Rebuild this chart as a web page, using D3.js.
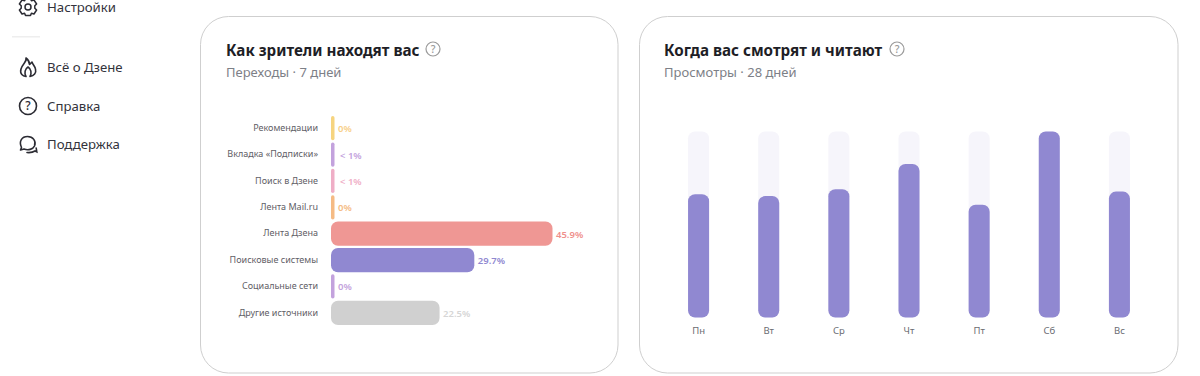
<!DOCTYPE html>
<html lang="ru">
<head>
<meta charset="utf-8">
<script src="https://cdn.jsdelivr.net/npm/d3@7"></script>
<style>
  html, body { margin: 0; padding: 0; background: #fff; overflow: hidden; }
  svg { display: block; font-family: "Noto Sans", sans-serif; }
  .axis .domain, .axis line { display: none; }
</style>
</head>
<body>
<div class="container"></div>
<script>
// data
const sources = ["Рекомендации", "Вкладка «Подписки»", "Поиск в Дзене", "Лента Mail.ru", "Лента Дзена", "Поисковые системы", "Социальные сети", "Другие источники"];
const sourceValues = [0, 0.5, 0.5, 0, 45.9, 29.7, 0, 22.5];
const sourceLabels = ["0%", "< 1%", "< 1%", "0%", "45.9%", "29.7%", "0%", "22.5%"];
const sourceColors = ["#f6d47f", "#c3a2dd", "#efaec6", "#f5bb84", "#ef9794", "#9088d1", "#c3a2dd", "#d0d0d0"];
const labelColors = ["#f8cf88", "#c3a2dd", "#efaec6", "#f5bb84", "#ef8f8c", "#9088d1", "#c3a2dd", "#d6d6d6"];

const days = ["Пн", "Вт", "Ср", "Чт", "Пт", "Сб", "Вс"];
const dayValues = [66.3, 65.3, 69, 82.5, 60.6, 100, 67.7];

const menuTop = ["Настройки"];
const menuBottom = ["Всё о Дзене", "Справка", "Поддержка"];

const width = 1200;
const height = 376;

const svg = d3.select(".container")
  .append("svg")
  .attr("width", width)
  .attr("height", height)
  .attr("viewBox", [0, 0, width, height]);

// question mark icon, used in the menu and next to titles
function helpIcon(x, y, r, color, sw, size) {
  const g = svg.append("g").attr("transform", `translate(${x},${y})`);
  g.append("circle").attr("r", r).attr("fill", "none").attr("stroke", color).attr("stroke-width", sw);
  g.append("text").attr("text-anchor", "middle").attr("y", size * 0.36)
    .attr("font-size", size).attr("font-weight", 500).attr("fill", color).text("?");
}

// left menu
const menuColor = "#2b2b33";
svg.selectAll(".menu-item")
  .data([[menuTop[0], 12], [menuBottom[0], 72], [menuBottom[1], 111], [menuBottom[2], 149]])
  .join("text")
  .attr("class", "menu-item")
  .attr("x", 47)
  .attr("y", d => d[1])
  .attr("font-size", 13.2)
  .attr("fill", "#33333b")
  .text(d => d[0]);

// gear
const gear = svg.append("g").attr("transform", "translate(28,7)").attr("fill", "none").attr("stroke", menuColor).attr("stroke-width", 1.5);
gear.append("circle").attr("r", 3);
gear.append("path").attr("stroke-linejoin", "round")
  .attr("d", "M-2.5,-8.5 L2.5,-8.5 L3.4,-6.2 L6,-7 L8.6,-3 L6.8,-1.2 L6.8,1.2 L8.6,3 L6,7 L3.4,6.2 L2.5,8.5 L-2.5,8.5 L-3.4,6.2 L-6,7 L-8.6,3 L-6.8,1.2 L-6.8,-1.2 L-8.6,-3 L-6,-7 L-3.4,-6.2 Z");

svg.append("rect").attr("x", 12).attr("y", 36).attr("width", 28).attr("height", 1.5).attr("fill", "#eeeeee");

// flame
svg.append("path")
  .attr("fill", "none").attr("stroke", menuColor).attr("stroke-width", 1.6).attr("stroke-linejoin", "round")
  .attr("d", "M26,58 C27,62 23,63 21,69 C19.500,74 23,76 26,76.500 C24,73 25,69 28,67 C31,69 32,73 30,76.500 C34,76 36.500,73 35.500,69 C35,66.500 33,65 32,62 C31,63 30.500,64 29.500,64.500 C29.500,62 28,59.500 26,58 Z");

helpIcon(28, 106, 8.5, menuColor, 1.6, 12);

// speech bubbles
svg.append("path")
  .attr("fill", "none").attr("stroke", menuColor).attr("stroke-width", 1.6).attr("stroke-linejoin", "round")
  .attr("d", "M21.500,147.500 C18.500,141 22,136.500 27.500,136.500 C33,136.500 36.500,141 34.500,146 C33,149.500 28,150.500 24,149 L20.500,150 Z");
svg.append("path")
  .attr("fill", "none").attr("stroke", menuColor).attr("stroke-width", 1.6).attr("stroke-linecap", "round")
  .attr("d", "M27,152.500 C30,152.800 33,152.300 35,151 L36.800,151.800 L36.200,148");

// cards
const cards = [
  { x: 200.5, w: 417.5, title: "Как зрители находят вас", sub: "Переходы · 7 дней", tx: 226, ix: 433 },
  { x: 639.5, w: 538.5, title: "Когда вас смотрят и читают", sub: "Просмотры · 28 дней", tx: 664, ix: 897 }
];

cards.forEach(c => {
  svg.append("rect")
    .attr("x", c.x).attr("y", 16.5)
    .attr("width", c.w).attr("height", 356.5)
    .attr("rx", 28)
    .attr("fill", "#fff").attr("stroke", "#cfcfcf");
  svg.append("text").attr("x", c.tx).attr("y", 56)
    .attr("font-size", 15.2).attr("font-weight", 700).attr("fill", "#1e1e26").text(c.title);
  svg.append("text").attr("x", c.tx).attr("y", 77)
    .attr("font-size", 13).attr("fill", "#7d8087").text(c.sub);
  helpIcon(c.ix, 49, 7, "#9a9a9a", 1.200, 10.5);
});

// horizontal bars
const xScale = d3.scaleLinear()
  .domain([0, 45.9])
  .range([331, 552.5]);

const yScale = d3.scaleBand()
  .domain(sources)
  .range([115, 326])
  .paddingInner(0.08)
  .paddingOuter(0.04);

const barWidth = d => Math.max(xScale(d) - xScale(0), 3.5);

svg.append("g")
  .selectAll("rect")
  .data(sources)
  .join("rect")
  .attr("x", xScale(0))
  .attr("y", d => yScale(d))
  .attr("width", (d, i) => barWidth(sourceValues[i]))
  .attr("height", yScale.bandwidth())
  .attr("rx", (d, i) => Math.min(barWidth(sourceValues[i]) / 2, 7))
  .attr("fill", (d, i) => sourceColors[i]);

svg.append("g")
  .attr("class", "axis")
  .attr("transform", "translate(318,0)")
  .call(d3.axisLeft(yScale).tickSize(0).tickPadding(0))
  .call(g => g.selectAll("text")
    .attr("font-family", "\"Noto Sans\", sans-serif")
    .attr("font-size", 9)
    .attr("fill", "#5f6066")
    .attr("dy", "0.3em"));

svg.append("g")
  .selectAll("text")
  .data(sources)
  .join("text")
  .attr("x", (d, i) => xScale(0) + barWidth(sourceValues[i]) + (sourceLabels[i][0] === "<" ? 5.5 : 3.5))
  .attr("y", d => yScale(d) + yScale.bandwidth() / 2 + 4)
  .attr("font-size", 9.500)
  .attr("font-weight", 600)
  .attr("fill", (d, i) => labelColors[i])
  .text((d, i) => sourceLabels[i]);

// vertical bars
const dayScale = d3.scaleBand()
  .domain(days)
  .range([663.500, 1154.500])
  .paddingInner(0.7)
  .paddingOuter(0.35);

const valueScale = d3.scaleLinear()
  .domain([0, 100])
  .range([317.500, 131.500]);

svg.append("g")
  .selectAll("rect")
  .data(days)
  .join("rect")
  .attr("x", d => dayScale(d))
  .attr("y", valueScale(100))
  .attr("width", dayScale.bandwidth())
  .attr("height", valueScale(0) - valueScale(100))
  .attr("rx", 7)
  .attr("fill", "#f6f5fb");

svg.append("g")
  .selectAll("rect")
  .data(dayValues)
  .join("rect")
  .attr("x", (d, i) => dayScale(days[i]))
  .attr("y", d => valueScale(d))
  .attr("width", dayScale.bandwidth())
  .attr("height", d => valueScale(0) - valueScale(d))
  .attr("rx", 7)
  .attr("fill", "#9088d1");

svg.append("g")
  .attr("class", "axis")
  .attr("transform", "translate(0,327)")
  .call(d3.axisBottom(dayScale).tickSize(0).tickPadding(0))
  .call(g => g.selectAll("text")
    .attr("font-family", "\"Noto Sans\", sans-serif")
    .attr("font-size", 9.500)
    .attr("fill", "#6b6c72"));
</script>
</body>
</html>
